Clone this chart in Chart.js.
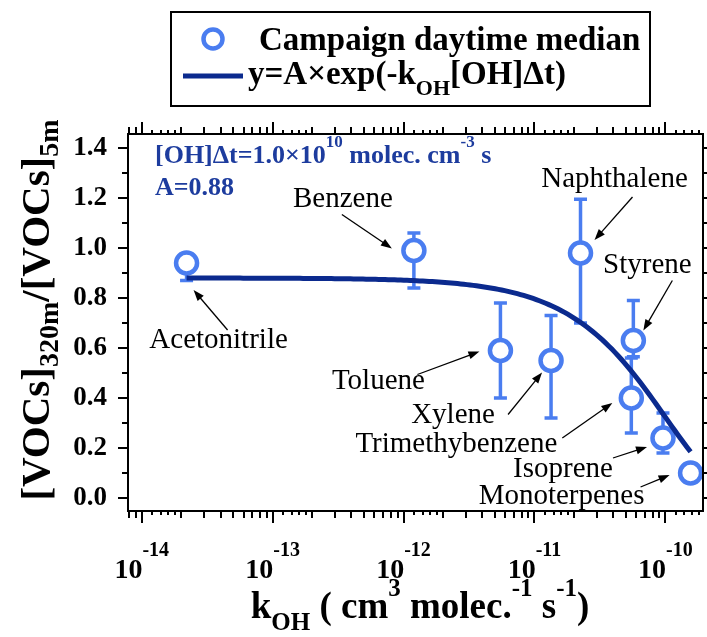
<!DOCTYPE html>
<html>
<head>
<meta charset="utf-8">
<script src="https://cdn.jsdelivr.net/npm/chart.js@4.4.1/dist/chart.umd.min.js"></script>
<style>
  html, body { margin: 0; padding: 0; background: #ffffff; }
  canvas { display: block; }
</style>
</head>
<body>
<canvas id="chart" width="707" height="637"></canvas>
<script>
// ---- data ----------------------------------------------------------------
const COMPOUNDS = ['Acetonitrile', 'Benzene', 'Toluene', 'Xylene', 'Naphthalene',
                   'Styrene', 'Trimethybenzene', 'Isoprene', 'Monoterpenes'];
const K_OH     = [2.2e-14, 1.2e-12, 5.5e-12, 1.34e-11, 2.25e-11, 5.7e-11, 5.5e-11, 9.6e-11, 1.56e-10];
const MEDIAN   = [0.94, 0.99, 0.59, 0.55, 0.98, 0.63, 0.40, 0.24, 0.10];
const ERR_LOW  = [0.87, 0.84, 0.40, 0.32, 0.70, 0.565, 0.26, 0.18, 0.08];
const ERR_HIGH = [0.96, 1.06, 0.78, 0.73, 1.195, 0.79, 0.56, 0.34, 0.12];

// fitted decay y = A * exp(-kOH [OH] dt)
const FIT_A = 0.88;
const FIT_OH_DT = 1.0e10;

const Y_TICKS = [0.0, 0.2, 0.4, 0.6, 0.8, 1.0, 1.2, 1.4];
const X_DECADES = [-14, -13, -12, -11, -10];

// ---- styling -------------------------------------------------------------
const SERIF = '"Liberation Serif", "Times New Roman", Times, serif';
const POINT_BLUE = '#4a7df0';
const FIT_NAVY = '#0b2a8e';
const NOTE_BLUE = '#1d3c9e';

// label placement relative to each point (text anchor, arrow tail, arrow head), px
const LABEL_LAYOUT = {
  Acetonitrile:    { text: [32, 85],    tail: [41, 67],   head: [7, 27] },
  Benzene:         { text: [-71, -44],  tail: [-72, -36], head: [-22, -2] },
  Toluene:         { text: [-122, 38],  tail: [-83, 24],  head: [-21, 1] },
  Xylene:          { text: [-98, 62],   tail: [-43, 54],  head: [-9, 12] },
  Naphthalene:     { text: [34, -66],   tail: [52, -56],  head: [14, -13] },
  Styrene:         { text: [14, -68],   tail: [39, -60],  head: [10, -10] },
  Trimethybenzene: { text: [-175, 54],  tail: [-69, 40],  head: [-19, 5] },
  Isoprene:        { text: [-100, 39],  tail: [-50, 20],  head: [-16, 9] },
  Monoterpenes:    { text: [-129, 31],  tail: [-50, 14],  head: [-21, 2] }
};

// ---- fit curve samples ---------------------------------------------------
const fitData = [];
(function () {
  const lo = Math.log10(K_OH[0]);
  const hi = Math.log10(K_OH[K_OH.length - 1]);
  const n = 160;
  for (let i = 0; i <= n; i++) {
    const k = Math.pow(10, lo + (hi - lo) * i / n);
    fitData.push({ x: k, y: FIT_A * Math.exp(-k * FIT_OH_DT) });
  }
})();

// ---- text helpers --------------------------------------------------------
function font(size, bold) {
  return (bold ? 'bold ' : '') + size + 'px ' + SERIF;
}
// draws a run of segments {t, size, bold, dy} starting at x (or centred on x)
function drawRich(ctx, segs, x, y, align) {
  let total = 0;
  segs.forEach(s => { ctx.font = font(s.size, s.bold); s.w = ctx.measureText(s.t).width; total += s.w; });
  let cx = align === 'center' ? x - total / 2 : x;
  ctx.textAlign = 'left';
  ctx.textBaseline = 'alphabetic';
  segs.forEach(s => {
    ctx.font = font(s.size, s.bold);
    ctx.fillText(s.t, cx, y + (s.dy || 0));
    cx += s.w;
  });
  return total;
}

function arrow(ctx, x1, y1, x2, y2) {
  const ang = Math.atan2(y2 - y1, x2 - x1);
  const len = 11, half = 4;
  ctx.beginPath();
  ctx.moveTo(x1, y1);
  ctx.lineTo(x2 - Math.cos(ang) * len * 0.8, y2 - Math.sin(ang) * len * 0.8);
  ctx.stroke();
  ctx.beginPath();
  ctx.moveTo(x2, y2);
  ctx.lineTo(x2 - Math.cos(ang) * len - Math.sin(ang) * half, y2 - Math.sin(ang) * len + Math.cos(ang) * half);
  ctx.lineTo(x2 - Math.cos(ang) * len + Math.sin(ang) * half, y2 - Math.sin(ang) * len - Math.cos(ang) * half);
  ctx.closePath();
  ctx.fill();
}

// ---- plugins -------------------------------------------------------------
const errorBars = {
  id: 'errorBars',
  beforeDatasetsDraw(chart) {
    const { ctx, scales: { x, y } } = chart;
    ctx.save();
    ctx.strokeStyle = POINT_BLUE;
    ctx.lineWidth = 3.5;
    ctx.lineCap = 'butt';
    K_OH.forEach((k, i) => {
      const px = x.getPixelForValue(k);
      const lo = y.getPixelForValue(ERR_LOW[i]);
      const hi = y.getPixelForValue(ERR_HIGH[i]);
      ctx.beginPath();
      ctx.moveTo(px, lo); ctx.lineTo(px, hi);
      ctx.moveTo(px - 6.5, lo); ctx.lineTo(px + 6.5, lo);
      ctx.moveTo(px - 6.5, hi); ctx.lineTo(px + 6.5, hi);
      ctx.stroke();
    });
    ctx.restore();
  }
};

const frameAndDecor = {
  id: 'frameAndDecor',
  afterDraw(chart) {
    const { ctx, chartArea: a, scales: { x, y } } = chart;
    ctx.save();

    // frame
    ctx.strokeStyle = '#000';
    ctx.lineWidth = 2;
    ctx.strokeRect(a.left, a.top, a.right - a.left, a.bottom - a.top);

    // x ticks (log): decades, 2..9 and 1.2..1.8 subdivisions, mirrored on top
    ctx.beginPath();
    for (let d = -15; d <= -9; d++) {
      [1, 1.2, 1.4, 1.6, 1.8, 2, 3, 4, 5, 6, 7, 8, 9].forEach(m => {
        const v = m * Math.pow(10, d);
        if (v < x.min || v > x.max) return;
        const px = Math.round(x.getPixelForValue(v));
        const len = m === 1 ? 12 : (m < 2 ? 4 : 7);
        ctx.moveTo(px, a.bottom); ctx.lineTo(px, a.bottom + len);
        ctx.moveTo(px, a.top); ctx.lineTo(px, a.top - len);
      });
    }
    // y ticks: majors every 0.2, minors between, mirrored on right
    for (let i = 0; i <= 14; i++) {
      const py = Math.round(y.getPixelForValue(i / 10));
      const len = i % 2 === 0 ? 10 : 6;
      ctx.moveTo(a.left, py); ctx.lineTo(a.left - len, py);
      ctx.moveTo(a.right, py); ctx.lineTo(a.right + len, py);
    }
    ctx.stroke();

    ctx.fillStyle = '#000';
    // x tick labels 10^n
    X_DECADES.forEach(d => {
      const px = x.getPixelForValue(Math.pow(10, d));
      drawRich(ctx, [
        { t: '10', size: 28, bold: true },
        { t: String(d), size: 20, bold: true, dy: -22 }
      ], px, 578, 'center');
    });

    // x axis title
    drawRich(ctx, [
      { t: 'k', size: 37, bold: true },
      { t: 'OH', size: 25, bold: true, dy: 12 },
      { t: ' ( cm', size: 37, bold: true },
      { t: '3', size: 25, bold: true, dy: -22 },
      { t: ' molec.', size: 37, bold: true },
      { t: '-1', size: 25, bold: true, dy: -22 },
      { t: ' s', size: 37, bold: true },
      { t: '-1', size: 25, bold: true, dy: -22 },
      { t: ')', size: 37, bold: true }
    ], 420, 618, 'center');

    // y axis title (rotated)
    ctx.save();
    ctx.translate(49, 310);
    ctx.rotate(-Math.PI / 2);
    drawRich(ctx, [
      { t: '[VOCs]', size: 41, bold: true },
      { t: '320m', size: 28, bold: true, dy: 9 },
      { t: '/[VOCs]', size: 41, bold: true },
      { t: '5m', size: 28, bold: true, dy: 9 }
    ], 0, 0, 'center');
    ctx.restore();

    // fit parameters
    ctx.fillStyle = NOTE_BLUE;
    drawRich(ctx, [
      { t: '[OH]\u0394t=1.0\u00d710', size: 26, bold: true },
      { t: '10', size: 17, bold: true, dy: -16 },
      { t: ' molec. cm', size: 26, bold: true },
      { t: '-3', size: 17, bold: true, dy: -16 },
      { t: ' s', size: 26, bold: true }
    ], 155, 163, 'left');
    drawRich(ctx, [{ t: 'A=0.88', size: 26, bold: true }], 155, 195, 'left');

    // compound labels with arrows
    ctx.fillStyle = '#000';
    ctx.strokeStyle = '#000';
    ctx.lineWidth = 1.3;
    COMPOUNDS.forEach((name, i) => {
      const L = LABEL_LAYOUT[name];
      const px = x.getPixelForValue(K_OH[i]);
      const py = y.getPixelForValue(MEDIAN[i]);
      ctx.font = font(29, false);
      ctx.textAlign = 'center';
      ctx.textBaseline = 'alphabetic';
      ctx.fillText(name, px + L.text[0], py + L.text[1]);
      arrow(ctx, px + L.tail[0], py + L.tail[1], px + L.head[0], py + L.head[1]);
    });

    // legend
    ctx.lineWidth = 2;
    ctx.strokeStyle = '#000';
    ctx.strokeRect(171, 12, 479, 94);
    ctx.beginPath();
    ctx.arc(213, 39, 9.5, 0, Math.PI * 2);
    ctx.fillStyle = '#fff';
    ctx.fill();
    ctx.lineWidth = 4.5;
    ctx.strokeStyle = POINT_BLUE;
    ctx.stroke();
    ctx.beginPath();
    ctx.moveTo(183, 76); ctx.lineTo(243, 76);
    ctx.lineWidth = 5;
    ctx.strokeStyle = FIT_NAVY;
    ctx.stroke();
    ctx.fillStyle = '#000';
    drawRich(ctx, [{ t: 'Campaign daytime median', size: 33, bold: true }], 259, 50, 'left');
    drawRich(ctx, [
      { t: 'y=A\u00d7exp(-k', size: 33, bold: true },
      { t: 'OH', size: 22, bold: true, dy: 11 },
      { t: '[OH]\u0394t)', size: 33, bold: true }
    ], 248, 84, 'left');

    ctx.restore();
  }
};

// ---- chart ---------------------------------------------------------------
new Chart(document.getElementById('chart'), {
  type: 'scatter',
  data: {
    datasets: [
      {
        type: 'line',
        label: 'y=A\u00d7exp(-kOH[OH]\u0394t)',
        data: fitData,
        borderColor: FIT_NAVY,
        borderWidth: 5,
        pointRadius: 0,
        fill: false,
        tension: 0,
        order: 0
      },
      {
        label: 'Campaign daytime median',
        data: K_OH.map((k, i) => ({ x: k, y: MEDIAN[i] })),
        pointStyle: 'circle',
        pointRadius: 10.5,
        borderWidth: 4.5,
        borderColor: POINT_BLUE,
        backgroundColor: '#ffffff',
        order: 1
      }
    ]
  },
  options: {
    responsive: false,
    animation: false,
    devicePixelRatio: 1,
    events: [],
    layout: { autoPadding: false, padding: { top: 134, right: 4, left: 0, bottom: 0 } },
    plugins: { legend: { display: false }, tooltip: { enabled: false } },
    scales: {
      x: {
        type: 'logarithmic',
        bounds: 'data',
        min: Math.pow(10, -14.105),
        max: Math.pow(10, -9.712),
        grid: { display: false, drawTicks: false },
        border: { display: false },
        ticks: { display: false },
        afterFit(s) { s.height = 126; }
      },
      y: {
        type: 'linear',
        bounds: 'data',
        min: -0.052,
        max: 1.456,
        grid: { display: false, drawTicks: false },
        border: { display: false },
        afterBuildTicks(s) { s.ticks = Y_TICKS.map(v => ({ value: v })); },
        ticks: {
          padding: 21,
          color: '#000',
          font: { family: SERIF, weight: 'bold', size: 27 },
          callback: v => Number(v).toFixed(1)
        },
        afterFit(s) { s.width = 128; }
      }
    }
  },
  plugins: [errorBars, frameAndDecor]
});
</script>
</body>
</html>
